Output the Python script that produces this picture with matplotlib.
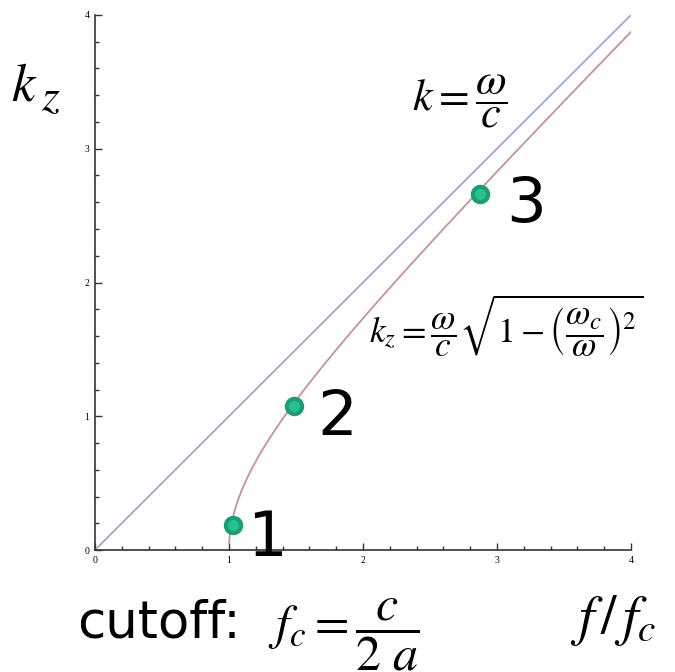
import numpy as np
import matplotlib.pyplot as plt
from matplotlib.ticker import MultipleLocator

plt.rcParams["mathtext.fontset"] = "stix"

# normalized frequency axis f/f_c and cutoff
f_range = [0.0, 4.0]
f_cut = 1.0

# marked operating points (f/f_c, k_z)
pt_f = [1.03, 1.485, 2.87]
pt_k = [0.19, 1.08, 2.66]
pt_labels = ["1", "2", "3"]
pt_offsets = [(10, -10), (17, -9), (19, -8)]

f = np.linspace(f_range[0], f_range[1], 800)
f_guide = f[f >= f_cut]
k_guide = np.sqrt(f_guide**2 - f_cut**2)

fig = plt.figure(figsize=(6.75, 6.72), dpi=100)
ax = fig.add_axes([0.1407, 0.1815, 0.794, 0.7962])

ax.plot(f, f, color="#a3a3d6", lw=1.3)
ax.plot(f_guide, k_guide, color="#c98ea6", lw=1.3)
ax.plot(pt_f, pt_k, "o", ms=11, mfc="#27c08e", mec="#16a074", mew=3, zorder=5)

for x, y, lab, off in zip(pt_f, pt_k, pt_labels, pt_offsets):
    ax.annotate(lab, (x, y), xytext=off, textcoords="offset points",
                fontsize=45, ha="left", va="center", color="black",
                family="DejaVu Sans")

ax.set_xlim(*f_range)
ax.set_ylim(0, 4)
for side in ("top", "right"):
    ax.spines[side].set_visible(False)
for side in ("left", "bottom"):
    ax.spines[side].set_color("#333333")
    ax.spines[side].set_linewidth(1.2)

ax.xaxis.set_major_locator(MultipleLocator(1))
ax.yaxis.set_major_locator(MultipleLocator(1))
ax.xaxis.set_minor_locator(MultipleLocator(0.2))
ax.yaxis.set_minor_locator(MultipleLocator(0.2))
ax.tick_params(which="both", direction="in", color="#333333", width=1,
               labelsize=7, pad=4)
ax.tick_params(which="major", length=5)
ax.tick_params(which="minor", length=3)
for lab in ax.get_xticklabels() + ax.get_yticklabels():
    lab.set_family("Liberation Serif")

# axis names
fig.text(0.016, 0.851, r"$k$", fontsize=38, ha="left", va="baseline")
fig.text(0.061, 0.837, r"$z$", fontsize=33, ha="left", va="baseline")
fig.text(0.845, 0.077, r"$f\,/\,f_c$", fontsize=40, ha="left", va="center")
fig.text(0.115, 0.072, "cutoff:", fontsize=37, ha="left", va="center",
         family="DejaVu Sans")
fig.text(0.397, 0.055, r"$f_c = \dfrac{c}{2\ a}$", fontsize=36, ha="left", va="center")

# dispersion relations
fig.text(0.61, 0.85, r"$k = \dfrac{\omega}{c}$", fontsize=32, ha="left", va="center")
fig.text(0.547, 0.515,
         r"$k_z = \dfrac{\omega}{c}\sqrt{1-\left(\dfrac{\omega_c}{\omega}\right)^2}$",
         fontsize=25.5, ha="left", va="center")

fig.savefig("out.png", dpi=100)
